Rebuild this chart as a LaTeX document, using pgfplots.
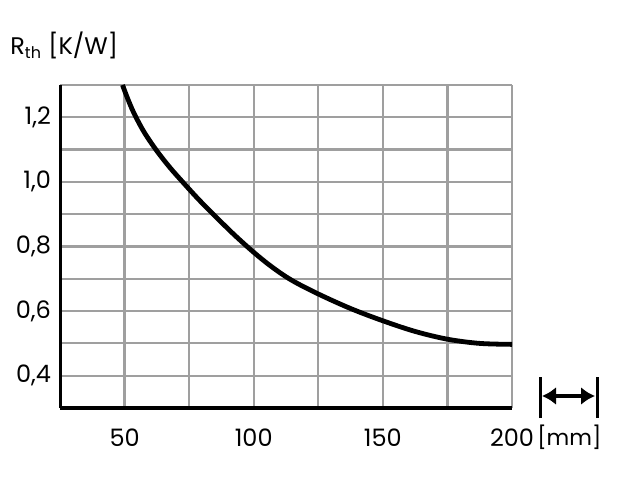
\documentclass[border=0pt]{standalone}
\usepackage{pgfplots}
\pgfplotsset{compat=1.18}
\usepackage{fontspec}
\setmainfont{Poppins}
\usetikzlibrary{arrows.meta}
\begin{document}
\begin{tikzpicture}[x=1pt,y=1pt]
\useasboundingbox (-30,-36) rectangle (290,204);
\begin{axis}[
  at={(0,0)}, anchor=south west,
  scale only axis, width=226pt, height=161.5pt,
  xmin=25, xmax=200, ymin=0.3, ymax=1.3,
  axis x line*=bottom, axis y line*=left,
  axis line style={black, line width=1.5pt},
  xtick={50,100,150,200}, xticklabels={50,100,150,200},
  minor xtick={75,125,175},
  ytick={0.4,0.6,0.8,1.0,1.2}, yticklabels={{0,4},{0,6},{0,8},{1,0},{1,2}},
  minor ytick={0.3,0.5,0.7,0.9,1.1,1.3},
  major tick length=0pt, minor tick length=0pt,
  grid=both,
  major grid style={gray!75, line width=1.1pt},
  minor grid style={gray!75, line width=1.1pt},
  tick label style={font=\fontsize{12}{14}\selectfont, black},
  xticklabel style={yshift=-7pt},
  yticklabel style={xshift=-1pt},
  /pgf/number format/assume math mode=true,
  clip=true,
]
\addplot[black, line width=2.4pt, smooth, tension=0.55] coordinates {
(49.2,1.30) (51,1.262) (53.5,1.215) (57.5,1.155) (62.4,1.097) (67.5,1.045)
(72.8,0.997) (79,0.943) (85.7,0.889) (92.5,0.836) (100,0.782) (107,0.737)
(114.6,0.696) (125,0.653) (137.5,0.608) (150,0.570) (162.5,0.537)
(175,0.513) (187.5,0.500) (200,0.497)
};
\end{axis}
\node[anchor=base west, inner sep=0pt, font=\fontsize{12}{14}\selectfont] at (-25,176.5) {R\textsubscript{th} [K/W]};
\node[anchor=west, inner sep=0pt, font=\fontsize{11}{13}\selectfont] at (238.5,-14.5) {[mm]};
\draw[line width=1.5pt] (240,-5) -- (240,15.5);
\draw[line width=1.5pt] (268.5,-5) -- (268.5,15.5);
\draw[line width=2pt, {Latex[length=7pt,width=9pt]}-{Latex[length=7pt,width=9pt]}] (241,6) -- (267.5,6);
\end{tikzpicture}
\end{document}
